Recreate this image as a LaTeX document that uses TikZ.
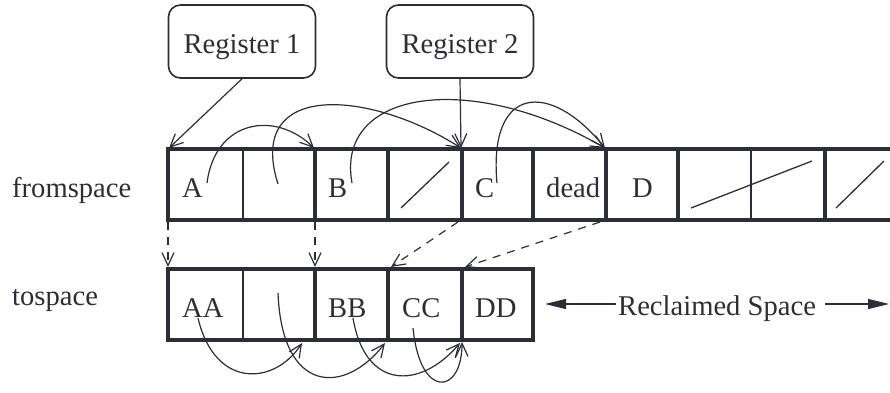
\documentclass[tikz,border=0pt]{standalone}
\usepackage{fontspec}
\setmainfont{Liberation Serif}
\usetikzlibrary{arrows.meta}
\definecolor{ink}{RGB}{45,45,55}
\begin{document}
\begin{tikzpicture}[x=1bp,y=-1bp, color=ink,
  lbl/.style={inner sep=0pt, anchor=base west, text=ink, font=\fontsize{28.6bp}{34bp}\selectfont},
  regbox/.style={draw=ink, text=ink, line width=1.6bp, rounded corners=12bp, minimum width=147bp, minimum height=73bp, inner sep=0pt, text height=23bp, text depth=0bp, font=\fontsize{28.6bp}{34bp}\selectfont},
  frame/.style={line width=4bp, line join=miter},
  thickdiv/.style={line width=4bp},
  thindiv/.style={line width=1.6bp},
  slash/.style={line width=1.3bp},
  ptr/.style={line width=1.2bp, -{Straight Barb[length=13bp,width=12bp]}},
  fwd/.style={ptr, dash pattern=on 8bp off 7bp},
  big/.style={line width=1.2bp, -{Triangle[length=21bp,width=10bp]}}
]
\useasboundingbox (0,0) rectangle (890,392);

% registers
\node[regbox] (r1) at (242,41.5) {Register 1};
\node[regbox] (r2) at (460,41.5) {Register 2};

% row labels
\node[lbl] (fs) at (12,197) {fromspace};
\node[lbl] (ts) at (12,305) {tospace};

% fromspace frame
\draw[frame] (892,149) -- (168,149) -- (168,220) -- (892,220);
\foreach \x in {315,388,462,533,606,678,825} \draw[thickdiv] (\x,149) -- (\x,220);
\foreach \x in {243,751} \draw[thindiv] (\x,149) -- (\x,220);
\draw[slash] (401,208) -- (449,162);
\draw[slash] (691,208) -- (812,161);
\draw[slash] (836,208) -- (884,161);

% tospace frame
\draw[frame] (168,269) rectangle (533,340);
\foreach \x in {315,388,462} \draw[thickdiv] (\x,269) -- (\x,340);
\draw[thindiv] (243,269) -- (243,340);

% cell texts
\node[lbl] (tA) at (182,197) {A};
\node[lbl] (tB) at (328,197) {B};
\node[lbl] (tC) at (475,197) {C};
\node[lbl] (tdead) at (546,197) {dead};
\node[lbl] (tD) at (632,197) {D};
\node[lbl] (tAA) at (182,317) {AA};
\node[lbl] (tBB) at (328,317) {BB};
\node[lbl] (tCC) at (402,317) {CC};
\node[lbl] (tDD) at (475,317) {DD};
\node[lbl] (rs) at (618,315) {Reclaimed Space};

% connector end points
\coordinate (f0) at (169,148);
\coordinate (f2) at (314,148);
\coordinate (f4) at (461,148);
\coordinate (f6) at (605,148);
\coordinate (sA) at (207,183);
\coordinate (sX) at (278,184);
\coordinate (sB) at (352,183);
\coordinate (sC) at (497,183);
\coordinate (b0) at (168,222);
\coordinate (b2) at (315,222);
\coordinate (b4) at (458,222);
\coordinate (b6) at (600,222);
\coordinate (t0) at (168,267);
\coordinate (t2) at (315,267);
\coordinate (t3) at (391,267);
\coordinate (t4) at (465,267);
\coordinate (sAA) at (198,318);
\coordinate (sY) at (278,293);
\coordinate (sBB) at (353,318);
\coordinate (sCC) at (413,328);
\coordinate (e1) at (302,343);
\coordinate (e2) at (385,343);
\coordinate (e3) at (460,343);
\coordinate (e4) at (462,342);
\coordinate (rsa) at (616,304);
\coordinate (rsb) at (825,304);
\coordinate (rl) at (545,304);
\coordinate (rr) at (889,304);

% register pointers
\draw[ptr] (r1.south) -- (f0);
\draw[ptr] (r2.south) -- (f4);

% fromspace pointers
\draw[ptr] (sA) .. controls (215,120) and (275,110) .. (f2);
\draw[ptr] (sX) .. controls (245,80) and (370,90) .. (f4);
\draw[ptr] (sB) .. controls (335,90) and (470,70) .. (f6);
\draw[ptr] (sC) .. controls (488,85) and (550,80) .. (f6);

% forwarding
\draw[fwd] (b0) -- (t0);
\draw[fwd] (b2) -- (t2);
\draw[fwd] (b4) -- (t3);
\draw[fwd] (b6) -- (t4);

% tospace pointers
\draw[ptr] (sAA) .. controls (215,390) and (275,385) .. (e1);
\draw[ptr] (sY) .. controls (282,395) and (345,395) .. (e2);
\draw[ptr] (sBB) .. controls (365,390) and (420,390) .. (e3);
\draw[ptr] (sCC) .. controls (420,400) and (462,395) .. (e4);

% reclaimed space
\draw[big] (rsa) -- (rl);
\draw[big] (rsb) -- (rr);
\end{tikzpicture}
\end{document}
